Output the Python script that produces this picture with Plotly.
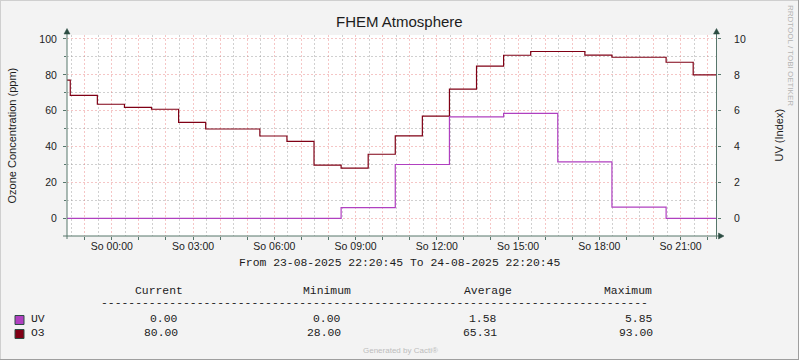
import plotly.graph_objects as go

# ---------------- data ----------------
t_start = "2025-08-23 22:20:45"
t_end = "2025-08-24 22:20:45"

# times at which each reading begins
step_times = [
    "2025-08-23 22:20:45", "2025-08-23 22:28", "2025-08-23 23:28",
    "2025-08-24 00:28", "2025-08-24 01:28", "2025-08-24 02:28",
    "2025-08-24 03:28", "2025-08-24 04:28", "2025-08-24 05:28",
    "2025-08-24 06:28", "2025-08-24 07:28", "2025-08-24 08:28",
    "2025-08-24 09:28", "2025-08-24 10:28", "2025-08-24 11:28",
    "2025-08-24 12:28", "2025-08-24 13:28", "2025-08-24 14:28",
    "2025-08-24 15:28", "2025-08-24 16:28", "2025-08-24 17:28",
    "2025-08-24 18:28", "2025-08-24 19:28", "2025-08-24 20:28",
    "2025-08-24 21:28",
]
o3_ppm = [77, 68.5, 63.6, 61.9, 60.8, 53.5, 49.8, 49.8, 45.9, 42.9, 29.7, 28,
          35.7, 46, 57, 72, 84.8, 90.9, 93, 93, 91, 89.8, 89.8, 87, 80]
uv_index = [0, 0, 0, 0, 0, 0, 0, 0, 0, 0, 0, 0.6, 0.6, 3.0, 3.0, 5.65, 5.65,
            5.85, 5.85, 3.15, 3.15, 0.62, 0.62, 0, 0]

stat_headers = ["Current", "Minimum", "Average", "Maximum"]
uv_stats = ["0.00", "0.00", "1.58", "5.85"]
o3_stats = ["80.00", "28.00", "65.31", "93.00"]

title_text = "FHEM Atmosphere"
left_title = "Ozone Concentration (ppm)"
right_title = "UV (Index)"
period_text = "From 23-08-2025 22:20:45 To 24-08-2025 22:20:45"

# ---------------- styling / layout ----------------
W, H = 799, 360
L, R, T, B = 67, 82, 35, 124
UV_COLOR = "#B040C0"
O3_COLOR = "#800015"
AXIS_COLOR = "#56766B"
ARROW_COLOR = "#2C4D43"
MGRID = "rgba(230,120,120,0.42)"
GRID = "rgba(150,150,150,0.45)"
SANS = "Liberation Sans, Arial, sans-serif"
MONO = "Liberation Mono, Courier New, monospace"
TXT = "#1c1c1c"
YRANGE = [-9.87, 102.2]


def px(xp):
    return (xp - L) / (W - L - R)


def py(yp):
    return 1 - (yp - T) / (H - T - B)


x_line = step_times + [t_end]
fig = go.Figure()
fig.add_trace(go.Scatter(x=x_line, y=o3_ppm + [o3_ppm[-1]], mode="lines",
                         line=dict(color=O3_COLOR, width=1.2, shape="hv"),
                         name="O3", yaxis="y"))
fig.add_trace(go.Scatter(x=x_line, y=uv_index + [uv_index[-1]], mode="lines",
                         line=dict(color=UV_COLOR, width=1.2, shape="hv"),
                         name="UV", yaxis="y2"))

# hourly ticks, labelled every 3 hours
tickvals, ticktext = [], []
for i in range(24):
    h = (23 + i) % 24
    day = 23 if i == 0 else 24
    tickvals.append(f"2025-08-{day:02d} {h:02d}:00")
    ticktext.append(f"So {h:02d}:00" if h % 3 == 0 else "")

fig.update_layout(
    width=W, height=H,
    margin=dict(l=L, r=R, t=T, b=B, pad=0),
    paper_bgcolor="#F3F3F3", plot_bgcolor="#FFFFFF",
    showlegend=False,
    font=dict(family=SANS, size=10.5, color=TXT),
    xaxis=dict(
        type="date", range=[t_start, t_end],
        tickmode="array", tickvals=tickvals, ticktext=ticktext,
        showgrid=True, gridcolor=MGRID, griddash="2px,2px", gridwidth=1,
        minor=dict(tickmode="linear", tick0="2025-08-24 00:30", dtick=3600000,
                   showgrid=True, gridcolor=GRID, griddash="2px,2px",
                   ticks=""),
        ticks="outside", ticklen=3, tickcolor=AXIS_COLOR,
        showline=False, zeroline=False,
        tickfont=dict(family=SANS, size=10.5, color=TXT),
        ticklabelstandoff=-3,
    ),
    yaxis=dict(
        range=YRANGE, tickmode="linear", tick0=0, dtick=20,
        showgrid=True, gridcolor=MGRID, griddash="2px,2px",
        minor=dict(tickmode="linear", tick0=10, dtick=20, showgrid=True,
                   gridcolor=GRID, griddash="2px,2px", ticks="outside",
                   ticklen=2, tickcolor=AXIS_COLOR),
        ticks="outside", ticklen=3, tickcolor=AXIS_COLOR,
        zeroline=False, showline=False,
        tickfont=dict(family=SANS, size=10.5, color=TXT),
        ticklabelstandoff=4,
    ),
    yaxis2=dict(
        range=[YRANGE[0] / 10, YRANGE[1] / 10], overlaying="y", side="right",
        tickmode="linear", tick0=0, dtick=2, showgrid=False,
        ticks="outside", ticklen=3, tickcolor=AXIS_COLOR,
        zeroline=False, showline=False,
        tickfont=dict(family=SANS, size=10.5, color=TXT),
        ticklabelstandoff=11,
    ),
)

shapes = []
# frame of the image
shapes.append(dict(type="line", xref="paper", yref="paper", x0=px(0), x1=px(W),
                   y0=py(0.5), y1=py(0.5), line=dict(color="#CFCFCF", width=1)))
shapes.append(dict(type="line", xref="paper", yref="paper", x0=px(0.5), x1=px(0.5),
                   y0=py(0), y1=py(H), line=dict(color="#CFCFCF", width=1)))
shapes.append(dict(type="line", xref="paper", yref="paper", x0=px(0), x1=px(W),
                   y0=py(H - 0.5), y1=py(H - 0.5), line=dict(color="#9E9E9E", width=1)))
shapes.append(dict(type="line", xref="paper", yref="paper", x0=px(W - 0.5), x1=px(W - 0.5),
                   y0=py(0), y1=py(H), line=dict(color="#9E9E9E", width=1)))
# axes with arrows
for xa in (67, 716.5):
    shapes.append(dict(type="line", xref="paper", yref="paper", x0=px(xa), x1=px(xa),
                       y0=py(239), y1=py(32), line=dict(color=AXIS_COLOR, width=1)))
    shapes.append(dict(type="path", xref="paper", yref="paper",
                       path=f"M {px(xa)} {py(28.5)} L {px(xa - 3)} {py(34)} L {px(xa + 3)} {py(34)} Z",
                       fillcolor=ARROW_COLOR, line=dict(color=ARROW_COLOR, width=0.5)))
shapes.append(dict(type="line", xref="paper", yref="paper", x0=px(63), x1=px(720),
                   y0=py(236), y1=py(236), line=dict(color=AXIS_COLOR, width=1)))
shapes.append(dict(type="path", xref="paper", yref="paper",
                   path=f"M {px(724)} {py(236)} L {px(718.5)} {py(233)} L {px(718.5)} {py(239)} Z",
                   fillcolor=ARROW_COLOR, line=dict(color=ARROW_COLOR, width=0.5)))
# legend swatches
for (y0, col) in ((315.5, UV_COLOR), (329.5, O3_COLOR)):
    shapes.append(dict(type="rect", xref="paper", yref="paper",
                       x0=px(15), x1=px(24), y0=py(y0 + 9), y1=py(y0),
                       fillcolor=col, line=dict(color=ARROW_COLOR, width=1)))
fig.update_layout(shapes=shapes)


def ann(text, x, y, xanchor="center", size=11.4, family=MONO, color=TXT, angle=0):
    fig.add_annotation(text=text, xref="paper", yref="paper", x=px(x), y=py(y),
                       xanchor=xanchor, yanchor="middle", showarrow=False,
                       textangle=angle, borderpad=0,
                       font=dict(family=family, size=size, color=color))


ann(title_text, 399, 22, size=15, family=SANS)
ann(left_title, 11, 135.5, size=11, family=SANS, angle=-90)
ann(right_title, 778, 135.5, size=11, family=SANS, angle=-90)
ann("RRDTOOL / TOBI OETIKER", 790, 56, size=8, family=SANS, color="#B4B4B4", angle=90)
ann(period_text, 399, 263)
for hdr, cx in zip(stat_headers, (159, 327, 488, 628)):
    ann(hdr, cx, 291)
ann("-" * 80, 99.5, 302.5, xanchor="left")
ann("UV", 29.5, 319, xanchor="left")
ann("O3", 29.5, 333, xanchor="left")
for val, rx in zip(uv_stats, (178.5, 341.5, 498, 653.5)):
    ann(val, rx, 319, xanchor="right")
for val, rx in zip(o3_stats, (178.5, 341.5, 498, 653.5)):
    ann(val, rx, 333, xanchor="right")
ann("Generated by Cacti®", 400, 350, size=8, family=SANS, color="#BDBDBD")

fig.write_html("out.html", config={"displayModeBar": False},
               post_script="document.body.style.margin='0';")
